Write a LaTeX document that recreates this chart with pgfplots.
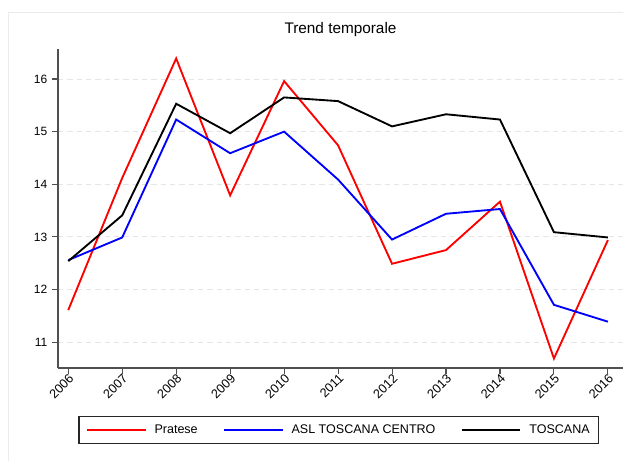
\documentclass[border=0pt]{standalone}
\usepackage{fontspec}
\setmainfont{Liberation Sans}
\usepackage{pgfplots}
\pgfplotsset{compat=1.18}

\definecolor{spine}{RGB}{80,80,80}

\begin{document}
\begin{tikzpicture}
\useasboundingbox (0,0) rectangle (467.25pt,345.75pt);
\draw[black!8, line width=0.75pt] (6pt,0pt) -- (6pt,336pt) -- (467.25pt,336pt);

\begin{axis}[
    at={(43.5pt,69.75pt)}, anchor=south west,
    scale only axis,
    width=423.75pt, height=239.25pt,
    xmin=2005.81, xmax=2016.28,
    ymin=10.51, ymax=16.57,
    axis lines*=left,
    axis line style={spine, line width=0.9pt},
    tick style={spine, line width=0.8pt},
    tick align=outside,
    major tick length=4.5pt,
    xtick={2006,2007,2008,2009,2010,2011,2012,2013,2014,2015,2016},
    ytick={11,12,13,14,15,16},
    xticklabel style={/pgf/number format/1000 sep={}, rotate=45, anchor=east, inner sep=1pt, yshift=-3pt, xshift=1.5pt, font=\fontsize{9.5}{11}\selectfont},
    yticklabel style={font=\fontsize{9}{11}\selectfont},
    /pgf/number format/assume math mode=true,
    ymajorgrids=true,
    major grid style={black!10, line width=0.75pt, dash pattern=on 4pt off 3pt},
    title={Trend temporale},
    title style={font=\fontsize{11.5}{13}\selectfont, at={(0.5,1.0229)}, anchor=base},
    legend columns=3,
    legend image code/.code={\draw[#1] (0pt,0pt) -- (44pt,0pt);},
    legend style={
        at={(0.4965,-0.194)}, anchor=center,
        draw=black!85, line width=0.8pt,
        font=\fontsize{9.4}{11}\selectfont,
        inner xsep=5.25pt, inner ysep=5pt,
        nodes={inner sep=1pt},
        /tikz/every odd column/.append style={column sep=5pt},
        /tikz/every even column/.append style={column sep=18pt},
    },
]

\addplot[red, line width=1.4pt] coordinates {
    (2006,11.61) (2007,14.12) (2008,16.39) (2009,13.79) (2010,15.96) (2011,14.74)
    (2012,12.49) (2013,12.75) (2014,13.67) (2015,10.69) (2016,12.94)
};
\addlegendentry{Pratese}

\addplot[blue, line width=1.4pt] coordinates {
    (2006,12.56) (2007,12.99) (2008,15.23) (2009,14.59) (2010,15.00) (2011,14.09)
    (2012,12.95) (2013,13.44) (2014,13.53) (2015,11.71) (2016,11.39)
};
\addlegendentry{ASL TOSCANA CENTRO}

\addplot[black, line width=1.4pt] coordinates {
    (2006,12.54) (2007,13.41) (2008,15.53) (2009,14.97) (2010,15.65) (2011,15.58)
    (2012,15.10) (2013,15.33) (2014,15.23) (2015,13.09) (2016,12.99)
};
\addlegendentry{TOSCANA}

\end{axis}
\end{tikzpicture}
\end{document}
